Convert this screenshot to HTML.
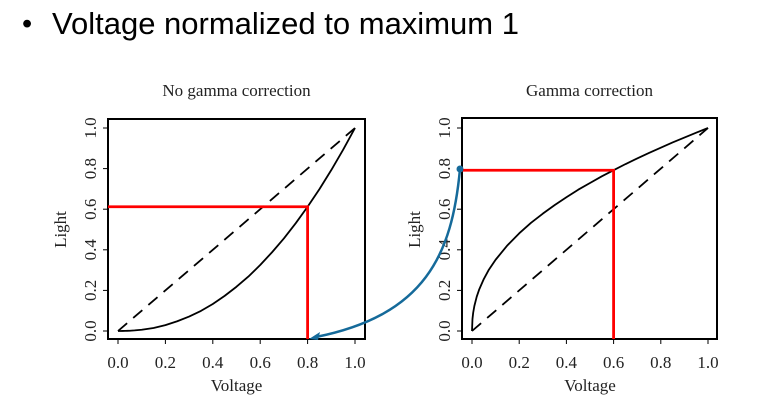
<!DOCTYPE html>
<html><head><meta charset="utf-8">
<style>
html,body{margin:0;padding:0;background:#fff;width:780px;height:401px;overflow:hidden}
svg{display:block}
.serif{font-family:"Liberation Serif",serif;font-size:17px;fill:#222}
</style></head><body>
<svg width="780" height="401" viewBox="0 0 780 401">
<text x="22" y="33" font-family="Liberation Sans,sans-serif" font-size="29" fill="#000">•</text>
<text x="52" y="34" font-family="Liberation Sans,sans-serif" font-size="31" fill="#000">Voltage normalized to maximum 1</text>
<g id="plots"></g>
<path d="M460,169 C452,255 425,315 316,337" fill="none" stroke="#156a9a" stroke-width="2.5"/>
<path d="M309,339 L320,332 L318,340 Z" fill="#156a9a"/>
<circle cx="460" cy="169" r="3.5" fill="#156a9a"/>
</svg>
<script>
const ticks=[0,0.2,0.4,0.6,0.8,1.0];
const tickLabels=["0.0","0.2","0.4","0.6","0.8","1.0"];
const xs=[0,0.002,0.005,0.01,0.02,0.03,0.05,0.07,0.1,0.15,0.2,0.25,0.3,0.35,0.4,0.45,0.5,0.55,0.6,0.65,0.7,0.75,0.8,0.85,0.9,0.95,1.0];
const noGamma=[0,0,0,0.00004,0.0002,0.0005,0.0014,0.0029,0.006,0.015,0.029,0.048,0.071,0.099,0.133,0.173,0.218,0.268,0.325,0.388,0.456,0.531,0.612,0.699,0.793,0.893,1];
const withGamma=[0,0.059,0.090,0.123,0.169,0.203,0.256,0.299,0.351,0.422,0.481,0.533,0.578,0.620,0.659,0.696,0.729,0.762,0.792,0.822,0.850,0.877,0.903,0.929,0.953,0.977,1];
const leftMark=[0.8,0.612];
const rightMark=[0.6,0.792];
const NS="http://www.w3.org/2000/svg";
const root=document.getElementById('plots');
function mk(t,a,p){const e=document.createElementNS(NS,t);for(const k in a)e.setAttribute(k,a[k]);(p||root).appendChild(e);return e;}
function plot(cfg){
  const g=mk('g',{});
  
  
  const X=v=>cfg.x0+v*(cfg.x1-cfg.x0), Y=v=>cfg.y0-v*(cfg.y0-cfg.y1);
  const box=mk('rect',{x:cfg.bl,y:cfg.bt,width:cfg.br-cfg.bl,height:cfg.bb-cfg.bt,fill:'none',stroke:'#000','stroke-width':2},g);
  
  
  const t=mk('text',{x:(cfg.bl+cfg.br)/2,y:96,'text-anchor':'middle',class:'serif'},g);t.textContent=cfg.title;
  
  
  ticks.forEach((v,i)=>{
    mk('line',{x1:X(v),x2:X(v),y1:cfg.bb,y2:cfg.bb+5,stroke:'#000'},g);
    const tx=mk('text',{x:X(v),y:cfg.bb+29,'text-anchor':'middle',class:'serif'},g);tx.textContent=tickLabels[i];
    
    
    mk('line',{x1:cfg.bl-5,x2:cfg.bl,y1:Y(v),y2:Y(v),stroke:'#000'},g);
    const ty=mk('text',{x:0,y:0,'text-anchor':'middle',class:'serif',transform:`translate(${cfg.bl-12},${Y(v)}) rotate(-90)`},g);ty.textContent=tickLabels[i];
    
    
  });
  const xl=mk('text',{x:(X(0)+X(1))/2,y:391,'text-anchor':'middle',class:'serif'},g);xl.textContent='Voltage';
  
  
  const yl=mk('text',{x:0,y:0,'text-anchor':'middle',class:'serif',transform:`translate(${cfg.bl-42},${(Y(0)+Y(1))/2}) rotate(-90)`},g);yl.textContent='Light';
  
  
  const d=mk('line',{x1:X(0),y1:Y(0),x2:X(1),y2:Y(1),stroke:'#000','stroke-width':1.8,'stroke-dasharray':'12,8'},g);
  
  
  const c=mk('polyline',{points:xs.map((x,i)=>X(x)+','+Y(cfg.ys[i])).join(' '),fill:'none',stroke:'#000','stroke-width':1.8,'stroke-linejoin':'round'},g);
  
  
  const r=mk('polyline',{points:`${cfg.redStart},${Y(cfg.mark[1])} ${X(cfg.mark[0])},${Y(cfg.mark[1])} ${X(cfg.mark[0])},${cfg.bb}`,fill:'none',stroke:'#f00','stroke-width':2.8},g);
  
  
}
plot({name:'no-gamma-plot',title:'No gamma correction',bl:108,br:365,bt:119,bb:339,x0:118,x1:355,y0:331,y1:128,ys:noGamma,mark:leftMark,redStart:108});
plot({name:'gamma-plot',title:'Gamma correction',bl:462,br:717,bt:118,bb:339,x0:472,x1:708,y0:331,y1:128,ys:withGamma,mark:rightMark,redStart:460});
</script>
</body></html>
